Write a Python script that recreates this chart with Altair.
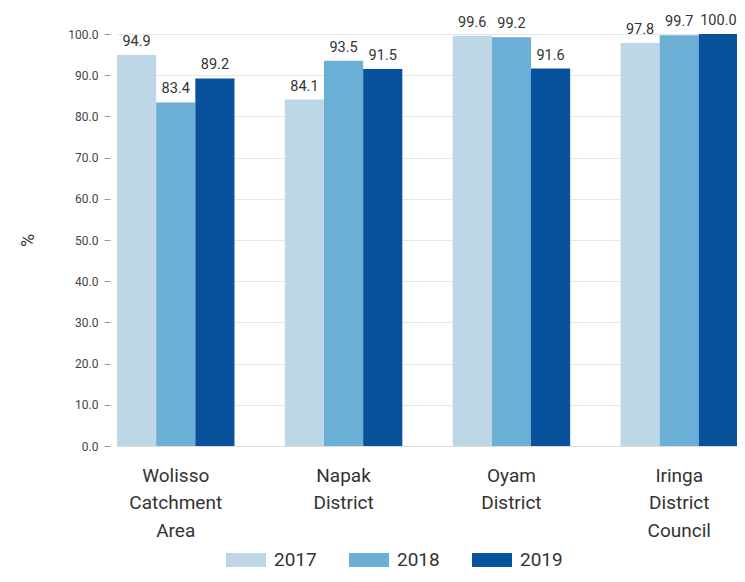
import altair as alt
import pandas as pd

regions = ["Wolisso\nCatchment\nArea", "Napak\nDistrict", "Oyam\nDistrict", "Iringa\nDistrict\nCouncil"]
years = ["2017", "2018", "2019"]
v2017 = [94.9, 84.1, 99.6, 97.8]
v2018 = [83.4, 93.5, 99.2, 99.7]
v2019 = [89.2, 91.5, 91.6, 100.0]
colors = ["#bdd7e7", "#6baed6", "#08519c"]

rows = []
for i, r in enumerate(regions):
    for y, vals in zip(years, [v2017, v2018, v2019]):
        rows.append({"region": r, "year": y, "value": vals[i]})
df = pd.DataFrame(rows)

FONT = "Roboto"

base = alt.Chart(df).encode(
    x=alt.X("region:N", sort=regions,
            scale=alt.Scale(paddingInner=0.3, paddingOuter=0, range=[7, 628]),
            axis=alt.Axis(title=None, labelAngle=0, labelFontSize=19, labelColor="#333333",
                          labelExpr="split(datum.label, '\\n')", labelLineHeight=27.5,
                          labelPadding=20, ticks=False, domainColor="#dddddd", labelFont=FONT)),
    xOffset=alt.XOffset("year:N", sort=years, scale=alt.Scale(paddingInner=0, paddingOuter=0)),
)

bars = base.mark_bar().encode(
    y=alt.Y("value:Q", scale=alt.Scale(domain=[0, 100], nice=False),
            axis=alt.Axis(title="%", titleAngle=-90, titleFontSize=18, titleFontWeight="normal",
                          titleColor="#333333", titlePadding=30, titleFont=FONT,
                          values=[0, 10, 20, 30, 40, 50, 60, 70, 80, 90, 100], format=".1f",
                          labelFontSize=12, labelColor="#444444", labelFont=FONT,
                          tickColor="#999999", tickSize=6, labelPadding=6, domain=False,
                          gridColor="#e6e6e6")),
    color=alt.Color("year:N", sort=years, scale=alt.Scale(domain=years, range=colors),
                    legend=alt.Legend(title=None, orient="none", direction="horizontal",
                                      legendX=116, legendY=506,
                                      symbolType="M-1,-0.35L1,-0.35L1,0.35L-1,0.35Z",
                                      symbolSize=1600, symbolStrokeWidth=0,
                                      labelFontSize=19, labelColor="#333333", labelFont=FONT,
                                      columnPadding=32, symbolOffset=0, labelOffset=8)),
)

labels = base.mark_text(baseline="bottom", dy=-6, fontSize=14.5, color="#333333", font=FONT).encode(
    y=alt.Y("value:Q"),
    text=alt.Text("value:Q", format=".1f"),
)

chart = (bars + labels).properties(
    width=627, height=412,
    autosize=alt.AutoSizeParams(type="none"),
    padding={"left": 102, "top": 26, "right": 0, "bottom": 128},
).configure_view(stroke=None)

chart.save("out.html", embed_options={"renderer": "svg", "actions": False})
